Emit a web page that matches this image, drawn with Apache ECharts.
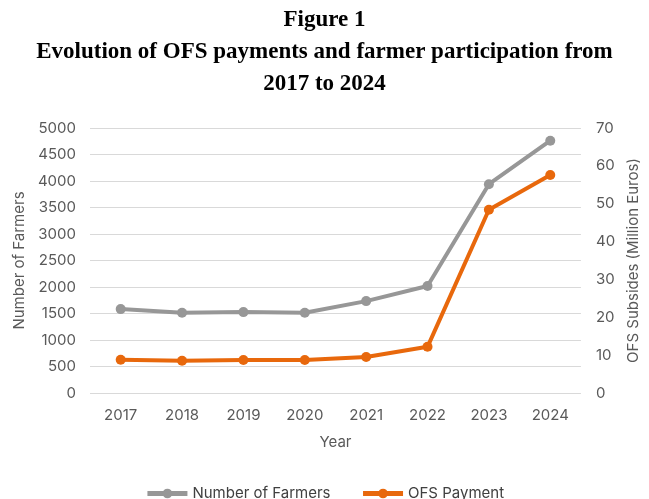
<!DOCTYPE html>
<html>
<head>
<meta charset="utf-8">
<script src="https://cdn.jsdelivr.net/npm/echarts@6/dist/echarts.min.js"></script>
<style>
  html, body { margin: 0; padding: 0; background: #fff; }
  #chart { width: 649px; height: 499px; }
</style>
</head>
<body>
<div id="chart"></div>
<script>
// data
const years = ['2017', '2018', '2019', '2020', '2021', '2022', '2023', '2024'];
const farmers = [1583, 1513, 1526, 1515, 1734, 2020, 3940, 4760];
const ofsPayment = [8.8, 8.5, 8.7, 8.7, 9.5, 12.2, 48.4, 57.6];

const tickFont = {color: '#595959', fontSize: 15, fontFamily: 'Inter, "Noto Sans", sans-serif'};
const nameFont = {color: '#595959', fontSize: 15, fontFamily: 'Inter, "Noto Sans", sans-serif'};
const plain = v => String(v);   // no thousands separator

const myChart = echarts.init(document.getElementById('chart'));
myChart.setOption({
  animation: false,
  title: {
    text: 'Figure 1\nEvolution of OFS payments and farmer participation from\n2017 to 2024',
    left: 'center',
    top: -1,
    textStyle: {
      fontFamily: '"Liberation Serif", "Times New Roman", serif',
      fontWeight: 'bold',
      fontSize: 23,
      lineHeight: 32,
      color: '#000'
    }
  },
  legend: {
    bottom: -7,
    left: 'center',
    itemWidth: 40,
    itemHeight: 12,
    itemGap: 30,
    itemStyle: {borderWidth: 0},
    lineStyle: {width: 5},
    textStyle: {color: '#404040', fontSize: 15, fontFamily: 'Inter, "Noto Sans", sans-serif'},
    data: ['Number of Farmers', 'OFS Payment']
  },
  grid: {left: 90, right: 64, top: 128, bottom: 106},
  xAxis: {
    type: 'category',
    data: years,
    name: 'Year',
    nameLocation: 'middle',
    nameGap: 42,
    nameTextStyle: nameFont,
    axisLine: {show: false},
    axisTick: {show: false},
    axisLabel: Object.assign({margin: 15}, tickFont)
  },
  yAxis: [
    {
      type: 'value',
      min: 0, max: 5000, interval: 500,
      name: 'Number of Farmers',
      nameLocation: 'middle',
      nameGap: 62,
      nameTextStyle: nameFont,
      axisLabel: Object.assign({margin: 14, formatter: plain}, tickFont),
      splitLine: {lineStyle: {color: '#d9d9d9', width: 1}}
    },
    {
      type: 'value',
      min: 0, max: 70, interval: 10,
      name: 'OFS Subsides (Million Euros)',
      nameLocation: 'middle',
      nameGap: 42,
      nameTextStyle: nameFont,
      axisLabel: Object.assign({margin: 15, formatter: plain}, tickFont),
      splitLine: {show: false}
    }
  ],
  series: [
    {
      name: 'Number of Farmers',
      type: 'line',
      yAxisIndex: 0,
      data: farmers,
      symbol: 'circle',
      symbolSize: 10,
      lineStyle: {width: 4, color: '#979797'},
      itemStyle: {color: '#979797'}
    },
    {
      name: 'OFS Payment',
      type: 'line',
      yAxisIndex: 1,
      data: ofsPayment,
      symbol: 'circle',
      symbolSize: 10,
      lineStyle: {width: 4, color: '#e8680c'},
      itemStyle: {color: '#e8680c'}
    }
  ]
});
</script>
</body>
</html>
